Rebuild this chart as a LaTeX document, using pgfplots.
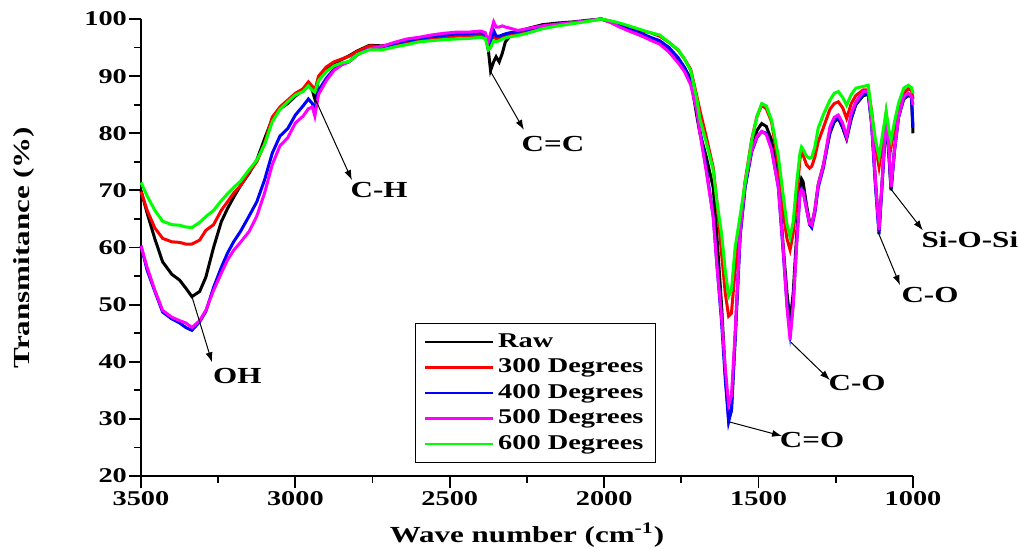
\documentclass[border=0pt]{standalone}
\usepackage{fontspec}
\setmainfont{Liberation Serif}[FakeStretch=1.35]
\usepackage{pgfplots}
\pgfplotsset{compat=1.18}
\usepackage{pgfplotstable}
\usetikzlibrary{arrows.meta}
\definecolor{cred}{RGB}{255,0,0}
\definecolor{cblue}{RGB}{0,0,255}
\definecolor{cmag}{RGB}{255,0,255}
\definecolor{cgreen}{RGB}{0,255,0}

\pgfplotstableread{
w R A B C D
3500 70.0 69.8 60.3 60.3 71.4
3480 66.0 66.5 56.0 56.5 69.0
3455 61.5 63.4 52.3 52.5 66.5
3430 57.5 61.6 48.7 49.0 64.6
3400 55.3 61.0 47.5 47.8 64.0
3375 54.3 60.9 46.8 47.2 63.9
3355 52.9 60.6 46.0 46.8 63.6
3335 51.4 60.6 45.5 46.0 63.5
3310 52.3 61.3 47.0 47.2 64.4
3290 54.8 63.0 48.8 49.0 65.4
3265 60.0 64.0 53.0 52.5 66.5
3240 64.5 66.5 56.5 55.5 68.2
3220 66.8 68.0 59.0 57.8 69.4
3200 68.8 69.5 61.0 59.5 70.5
3178 70.8 70.8 62.8 60.9 71.6
3150 73.0 73.2 65.5 62.8 73.6
3125 75.3 75.0 68.0 65.5 75.3
3100 79.0 78.2 71.8 69.5 78.0
3075 82.5 82.8 76.5 74.5 82.0
3050 84.3 84.6 79.5 77.8 84.2
3025 85.2 85.8 80.8 79.2 85.5
3000 86.5 87.0 83.2 81.8 86.7
2975 87.6 87.8 84.8 83.0 87.3
2958 88.6 89.0 86.0 84.3 88.3
2945 87.5 88.2 85.2 84.6 87.5
2937 86.0 87.5 84.0 83.0 87.2
2925 89.5 90.0 87.5 86.8 89.2
2900 91.3 91.6 89.6 89.2 90.8
2875 92.3 92.5 91.2 91.0 91.8
2850 92.9 93.0 92.0 92.0 92.3
2825 93.6 93.5 92.6 92.5 92.6
2800 94.4 94.3 93.8 93.7 93.8
2760 95.4 95.3 94.8 94.8 94.6
2720 95.3 95.2 95.0 95.2 94.6
2680 95.6 95.6 95.7 95.9 95.1
2640 96.2 96.0 96.2 96.5 95.5
2600 96.7 96.4 96.6 96.8 96.0
2560 96.9 96.6 96.9 97.2 96.2
2520 97.0 96.8 97.1 97.5 96.4
2480 97.3 97.0 97.4 97.7 96.5
2440 97.3 97.1 97.4 97.7 96.6
2400 97.5 97.2 97.6 97.9 96.8
2385 97.2 97.0 97.3 97.6 96.6
2375 94.5 95.8 95.0 96.0 94.6
2368 91.0 95.5 96.0 97.5 95.0
2358 92.5 97.2 98.0 99.5 96.2
2350 93.4 96.5 97.0 98.6 96.0
2340 92.5 96.6 97.0 98.6 96.2
2330 94.0 96.8 97.2 98.8 96.5
2320 96.0 97.0 97.4 98.6 96.7
2305 97.0 97.3 97.6 98.4 96.9
2280 97.6 97.5 97.8 98.0 97.1
2250 98.3 97.9 98.1 98.3 97.5
2200 99.0 98.6 98.7 98.8 98.3
2150 99.3 99.0 99.1 99.1 98.8
2100 99.5 99.4 99.4 99.4 99.2
2050 99.8 99.7 99.7 99.7 99.6
2010 100 100 100 100 100
1980 99.5 99.6 99.5 99.4 99.7
1950 98.7 99.1 98.9 98.6 99.3
1920 98.0 98.6 98.2 97.9 98.8
1885 97.2 98.0 97.6 97.2 98.2
1850 96.5 97.6 96.8 96.3 97.6
1820 95.8 97.0 96.2 95.6 97.2
1790 94.8 95.9 95.0 94.2 95.9
1760 93.0 94.5 93.2 92.3 94.6
1740 91.5 93.0 91.5 90.8 93.0
1720 89.5 91.2 89.0 88.5 91.0
1700 83.0 86.5 84.0 84.0 86.0
1690 80.0 84.0 80.5 80.0 82.5
1670 76.0 79.5 74.0 73.5 78.5
1647 70.5 74.0 65.5 65.4 73.6
1635 62.0 68.0 57.0 57.0 68.0
1620 50.0 59.0 47.0 47.9 62.5
1608 38.0 52.0 37.0 39.0 56.0
1597 30.0 48.0 29.5 32.5 51.5
1588 31.5 48.5 31.5 34.0 52.5
1576 44.0 56.0 44.0 45.0 60.0
1560 62.0 63.5 62.0 62.5 65.5
1544 70.5 71.5 70.5 71.2 71.2
1522 77.5 79.0 76.8 77.1 78.8
1505 80.5 83.0 79.3 79.5 83.0
1490 81.7 84.9 80.3 80.3 85.2
1475 81.2 84.3 80.0 79.8 84.8
1458 78.8 82.0 77.3 77.1 82.3
1436 72.0 74.5 70.5 70.6 76.0
1420 60.0 66.0 59.0 59.5 69.0
1408 52.0 61.5 50.0 49.5 64.0
1398 47.0 59.6 45.0 43.8 61.8
1388 52.0 62.5 50.0 50.0 64.5
1377 62.0 68.5 60.5 60.5 71.2
1366 70.5 75.5 69.5 69.5 76.5
1361 72.0 76.9 70.3 70.1 77.6
1356 71.5 76.2 70.0 69.8 77.2
1345 67.5 74.5 66.8 66.8 76.0
1335 64.5 73.9 64.0 64.2 75.6
1328 64.0 74.2 63.5 63.9 75.8
1318 66.5 75.8 66.0 66.5 77.6
1307 71.0 78.5 70.5 71.0 80.9
1290 74.5 81.0 74.0 74.5 83.3
1269 80.0 84.2 80.3 81.1 85.8
1255 82.0 85.2 82.3 82.8 87.0
1242 82.6 85.5 82.8 83.2 87.3
1228 81.0 84.5 81.2 81.8 86.3
1215 79.0 82.6 79.2 79.4 84.9
1200 82.5 85.2 82.8 83.5 86.8
1185 85.0 86.6 85.2 85.5 87.9
1161 86.6 87.6 86.8 87.3 88.2
1145 86.8 87.6 87.0 87.4 88.4
1134 82.0 84.0 81.5 81.8 83.5
1122 72.0 78.0 71.0 72.0 79.0
1110 63.0 74.1 62.3 63.0 75.9
1098 73.0 78.5 73.0 73.5 80.0
1087 82.5 83.5 83.0 83.5 83.8
1078 76.0 80.0 76.5 77.0 80.5
1071 70.0 77.6 70.3 70.6 78.8
1060 77.0 81.0 77.0 77.0 82.0
1047 82.8 84.0 82.8 82.9 85.2
1030 86.0 87.0 86.2 86.5 87.9
1015 86.6 87.8 86.8 87.0 88.4
1005 86.4 87.5 86.5 86.5 88.0
1000 80.0 86.0 81.0 85.0 87.0
}\ftir

\begin{document}
\begin{tikzpicture}
\path[use as bounding box] (-70.5pt,-36pt) rectangle (439.5pt,238pt);
\begin{axis}[
  at={(0pt,0pt)}, anchor=south west,
  width=386pt, height=228.5pt, scale only axis,
  x dir=reverse, xmin=1000, xmax=3500, ymin=20, ymax=100,
  xtick={1000,1500,...,3500}, minor x tick num=1,
  ytick={20,30,...,100}, minor y tick num=1,
  axis x line*=bottom, axis y line*=left,
  tick align=outside, major tick length=6pt, minor tick length=3.5pt,
  axis line style={line width=1pt, -},
  every tick/.style={line width=0.9pt, black},
  every minor tick/.style={line width=0.9pt, black},
  font=\fontsize{10.5}{12}\selectfont\bfseries,
  /pgf/number format/assume math mode=true,
  /pgf/number format/1000 sep={},
  yticklabel style={xshift=2.5pt},
  xticklabel style={yshift=2pt},
  xlabel={Wave number (cm\textsuperscript{-1})},
  ylabel={Transmitance (\%)},
  label style={font=\fontsize{11.5}{13}\selectfont\bfseries},
  xlabel style={yshift=-2pt},
  ylabel style={yshift=18pt},
  clip=false,
  legend style={at={(rel axis cs:0.355,0.335)}, anchor=north west,
    draw=black, line width=0.6pt, font=\fontsize{10.5}{12}\selectfont\bfseries,
    row sep=0.3pt, inner xsep=4pt, inner ysep=3pt},
  legend cell align=left,
  legend image code/.code={\draw[#1, line width=1.3pt] (0pt,0pt) -- (34pt,0pt);},
  every axis plot/.append style={line width=1.5pt},
]
\addplot[black] table[x=w, y=R] {\ftir};
\addplot[cred] table[x=w, y=A] {\ftir};
\addplot[cblue] table[x=w, y=B] {\ftir};
\addplot[cmag] table[x=w, y=C] {\ftir};
\addplot[cgreen] table[x=w, y=D] {\ftir};
\legend{Raw, 300 Degrees, 400 Degrees, 500 Degrees, 600 Degrees}

\begin{scope}[line width=0.5pt, -{Latex[length=5pt,width=3.5pt]}]
\draw (3335,51.4) -- (3270,39.9);
\draw (2940,86.5) -- (2817,71.8);
\draw (2370,91) -- (2260,80.6);
\draw (1597,29.5) -- (1424,27.0);
\draw (1395,43.4) -- (1269,36.8);
\draw (1113,62.7) -- (1042,53.4);
\draw (1074,70.4) -- (968,63.0);
\end{scope}
\begin{scope}[every node/.style={font=\fontsize{11.5}{13}\selectfont\bfseries}]
\node at (3188,37.5) {OH};
\node at (2729,70.0) {C-H};
\node at (2166,78.1) {C=C};
\node at (1327,26.3) {C=O};
\node at (1181,36.3) {C-O};
\node at (945,51.7) {C-O};
\node at (816,61.3) {Si-O-Si};
\end{scope}
\end{axis}
\end{tikzpicture}
\end{document}
